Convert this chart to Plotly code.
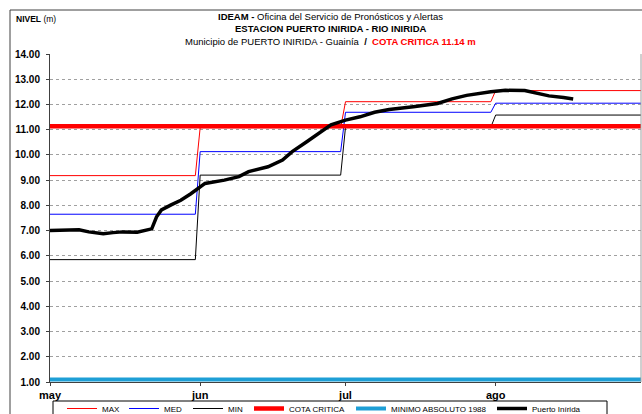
import plotly.graph_objects as go

# Monthly reference levels (m) for the station
month_starts = ["2011-05-01", "2011-06-01", "2011-07-01", "2011-08-01"]
month_ends = ["2011-05-31", "2011-06-30", "2011-07-31", "2011-08-31"]
max_vals = [9.18, 11.08, 12.11, 12.55]
med_vals = [7.65, 10.13, 11.69, 12.05]
min_vals = [5.85, 9.20, 11.10, 11.58]

cota_critica = 11.14
minimo_1988 = 1.10

# Observed level at Puerto Inírida (m)
obs_dates = [
    "2011-05-01", "2011-05-04", "2011-05-07", "2011-05-09", "2011-05-12",
    "2011-05-14", "2011-05-16", "2011-05-19", "2011-05-21", "2011-05-22",
    "2011-05-23", "2011-05-24", "2011-05-26", "2011-05-28", "2011-05-30",
    "2011-06-01", "2011-06-02", "2011-06-06", "2011-06-09", "2011-06-11",
    "2011-06-15", "2011-06-18", "2011-06-20", "2011-06-23", "2011-06-26",
    "2011-06-28", "2011-07-01", "2011-07-04", "2011-07-07", "2011-07-10",
    "2011-07-15", "2011-07-20", "2011-07-23", "2011-07-26", "2011-07-31",
    "2011-08-03", "2011-08-07", "2011-08-10", "2011-08-12", "2011-08-15",
    "2011-08-17",
]
obs_vals = [
    7.00, 7.02, 7.03, 6.95, 6.88,
    6.92, 6.95, 6.94, 7.02, 7.07,
    7.55, 7.82, 8.02, 8.20, 8.45,
    8.72, 8.87, 9.00, 9.14, 9.34,
    9.53, 9.80, 10.13, 10.52, 10.92,
    11.19, 11.38, 11.51, 11.69, 11.80,
    11.91, 12.04, 12.22, 12.36, 12.50,
    12.56, 12.55, 12.44, 12.34, 12.28,
    12.22,
]

tick_vals = ["2011-05-01", "2011-06-01", "2011-07-01", "2011-08-01"]
tick_text = ["may", "jun", "jul", "ago"]
x_start, x_end = "2011-05-01", "2011-08-31"

FONT = "Liberation Sans Narrow, Arial Narrow, Liberation Sans, Arial"

# plot-area geometry in pixels (used to place the legend row)
PLOT_L, PLOT_W = 50, 591
PLOT_B, PLOT_H = 382, 328


def px_x(px):
    return (px - PLOT_L) / PLOT_W


def px_y(py):
    return (PLOT_B - py) / PLOT_H


def monthly_steps(vals):
    xs, ys = [], []
    for s, e, v in zip(month_starts, month_ends, vals):
        xs += [s, e]
        ys += [v, v]
    return xs, ys


fig = go.Figure()

for name, vals, color, lg in [("MAX", max_vals, "#ff0000", "legend"),
                              ("MED", med_vals, "#0000ff", "legend2"),
                              ("MIN", min_vals, "#000000", "legend3")]:
    xs, ys = monthly_steps(vals)
    fig.add_trace(go.Scatter(x=xs, y=ys, mode="lines", name=name, legend=lg,
                             line=dict(color=color, width=1)))

fig.add_trace(go.Scatter(x=[x_start, x_end], y=[cota_critica] * 2, mode="lines",
                         name="COTA CRITICA", legend="legend4",
                         line=dict(color="#ff0000", width=4.5)))
fig.add_trace(go.Scatter(x=[x_start, x_end], y=[minimo_1988] * 2, mode="lines",
                         name="MINIMO ABSOLUTO 1988", legend="legend5",
                         line=dict(color="#1e9fd6", width=4)))
fig.add_trace(go.Scatter(x=obs_dates, y=obs_vals, mode="lines", name="Puerto Inírida",
                         legend="legend6", line=dict(color="#000000", width=3.5)))

# one legend entry per slot along the bottom row
legend_left_px = [62, 124, 188, 249, 351, 492]
legend_style = dict(orientation="h", xanchor="left", yanchor="top", y=px_y(394),
                    bgcolor="rgba(0,0,0,0)", borderwidth=0,
                    font=dict(size=8, family=FONT))
legends = {}
for i, lx in enumerate(legend_left_px):
    key = "legend" if i == 0 else f"legend{i + 1}"
    legends[key] = dict(legend_style, x=px_x(lx))

fig.update_layout(
    width=642, height=414,
    margin=dict(l=PLOT_L, r=1, t=54, b=32, autoexpand=False),
    paper_bgcolor="white", plot_bgcolor="white",
    font=dict(family=FONT, size=10, color="#000000"),
    showlegend=True,
    **legends,
)

fig.update_xaxes(
    type="date", range=[x_start, x_end],
    tickvals=tick_vals, ticktext=[f"<b>{t}</b>" for t in tick_text],
    ticks="outside", ticklen=3, tickcolor="#404040",
    showline=True, linecolor="#404040", linewidth=1,
    showgrid=False, zeroline=False,
    tickfont=dict(size=11, family=FONT),
)
fig.update_yaxes(
    range=[1, 14], dtick=1, tickformat=".2f",
    ticks="outside", ticklen=3, tickcolor="#404040",
    showline=True, linecolor="#404040", linewidth=1,
    showgrid=True, gridcolor="#a0a0a0", griddash="dot", gridwidth=1,
    zeroline=False, tickfont=dict(size=10, family=FONT),
    tickprefix="<b>", ticksuffix="</b>", ticklabelstandoff=4,
)

# right border of the plotting area
fig.add_shape(type="line", xref="paper", yref="paper", x0=1, x1=1, y0=0, y1=1,
              line=dict(color="#a0a0a0", width=1))
# frame around the legend row
fig.add_shape(type="rect", xref="paper", yref="paper",
              x0=px_x(53), x1=px_x(607), y0=px_y(430), y1=px_y(401),
              line=dict(color="#000000", width=1), layer="below")
# outer chart frame
fig.add_shape(type="rect", xref="paper", yref="paper",
              x0=px_x(10), x1=1.2, y0=-0.3, y1=px_y(10),
              line=dict(color="#404040", width=1), layer="below")

TITLE_SIZE = 9.5
fig.add_annotation(xref="paper", yref="paper", x=0.475, y=1.115, xanchor="center", yanchor="middle",
                   showarrow=False, font=dict(size=TITLE_SIZE, family=FONT),
                   text="<b>IDEAM -</b> Oficina del Servicio de Pronósticos y Alertas")
fig.add_annotation(xref="paper", yref="paper", x=0.475, y=1.077, xanchor="center", yanchor="middle",
                   showarrow=False, font=dict(size=TITLE_SIZE, family=FONT),
                   text="<b>ESTACION PUERTO INIRIDA - RIO INIRIDA</b>")
fig.add_annotation(xref="paper", yref="paper", x=0.475, y=1.038, xanchor="center", yanchor="middle",
                   showarrow=False, font=dict(size=TITLE_SIZE, family=FONT),
                   text="Municipio de PUERTO INIRIDA - Guainía  <b>/</b>  "
                        "<span style='color:#ff0000'><b>COTA CRITICA 11.14 m</b></span>")
fig.add_annotation(xref="paper", yref="paper", x=px_x(14), y=1.108, xanchor="left", yanchor="middle",
                   showarrow=False, font=dict(size=8.5, family=FONT),
                   text="<b>NIVEL</b> (m)")

fig.write_html("out.html")
